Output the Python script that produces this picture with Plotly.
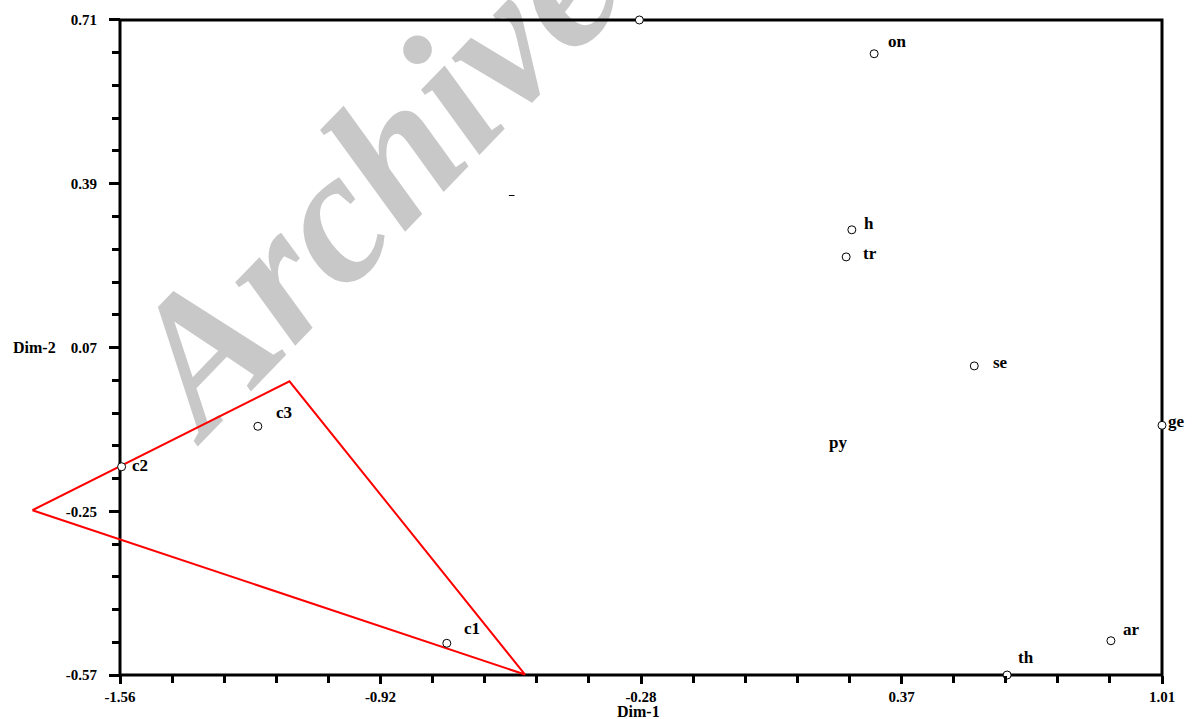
import numpy as np
import plotly.graph_objects as go

# ---------------- data ----------------
point_labels = ["", "on", "h", "tr", "se", "ge", "ar", "th", "c1", "c2", "c3"]
point_x = [-0.279, 0.300, 0.245, 0.231, 0.547, 1.010, 0.884, 0.628, -0.754, -1.556, -1.220]
point_y = [0.710, 0.644, 0.300, 0.247, 0.034, -0.082, -0.503, -0.570, -0.508, -0.163, -0.084]

text_only_labels = ["py"]
text_only_x = [0.211]
text_only_y = [-0.119]

stray_x = [-0.594]
stray_y = [0.367]

triangle_x = [-1.776, -1.142, -0.561, -1.776]
triangle_y = [-0.248, 0.004, -0.569, -0.248]

x_tick_labels = ["-1.56", "-0.92", "-0.28", "0.37", "1.01"]
y_tick_labels = ["0.71", "0.39", "0.07", "-0.25", "-0.57"]

x_title = "Dim-1"
y_title = "Dim-2"
watermark = "Archive"

# ---------------- styles / layout geometry ----------------
XMIN_FRAME, XMAX_FRAME = -1.56, 1.01
YMIN_FRAME, YMAX_FRAME = -0.57, 0.71
W, H = 1196, 719
L, R, T, B = 20, 30, 13, 40
pw, ph = W - L - R, H - T - B
px_per_x = (1162 - 120) / (XMAX_FRAME - XMIN_FRAME)
px_per_y = (675 - 17) / (YMAX_FRAME - YMIN_FRAME)
x_range = [XMIN_FRAME - (120 - L) / px_per_x, XMAX_FRAME + (W - R - 1162) / px_per_x]
y_range = [YMIN_FRAME - (H - B - 675) / px_per_y, YMAX_FRAME + (17 - T) / px_per_y]

label_offsets = {  # (dx, dy) in pixels from the marker to the label
    "on": (12, -12), "h": (10, -6), "tr": (15, -3), "se": (17, -3), "ge": (4, -4),
    "ar": (10, -11), "th": (9, -18), "c1": (15, -15), "c2": (8, -1), "c3": (16, -14),
}

SERIF = "Liberation Serif, Times New Roman, serif"
LABEL_SIZE = 17

x_tickvals = list(np.linspace(XMIN_FRAME, XMAX_FRAME, len(x_tick_labels)))
y_tickvals = list(np.linspace(YMAX_FRAME, YMIN_FRAME, len(y_tick_labels)))
x_minor = list(np.linspace(XMIN_FRAME, XMAX_FRAME, 5 * (len(x_tick_labels) - 1) + 1))
y_minor = list(np.linspace(YMIN_FRAME, YMAX_FRAME, 5 * (len(y_tick_labels) - 1) + 1))

fig = go.Figure()

fig.add_trace(go.Scatter(
    x=triangle_x, y=triangle_y, mode="lines",
    line=dict(color="#ff0000", width=2), hoverinfo="skip", showlegend=False,
))

fig.add_trace(go.Scatter(
    x=point_x, y=point_y, mode="markers",
    marker=dict(symbol="circle", size=8, color="white", line=dict(color="black", width=1)),
    cliponaxis=False, showlegend=False, text=point_labels,
))

fig.add_trace(go.Scatter(
    x=stray_x, y=stray_y, mode="markers",
    marker=dict(symbol="line-ew", size=4, line=dict(color="black", width=1)),
    showlegend=False, hoverinfo="skip",
))

fig.add_trace(go.Scatter(
    x=text_only_x, y=text_only_y, mode="text", text=text_only_labels,
    textfont=dict(family=SERIF, size=LABEL_SIZE, color="black", weight="bold"),
    textposition="middle center", showlegend=False, cliponaxis=False,
))

annotations = []
for lab, xv, yv in zip(point_labels, point_x, point_y):
    if not lab:
        continue
    dx, dy = label_offsets.get(lab, (10, 0))
    annotations.append(dict(
        x=xv, y=yv, xref="x", yref="y", text=lab, showarrow=False,
        xanchor="left", yanchor="middle", xshift=dx, yshift=-dy,
        font=dict(family=SERIF, size=LABEL_SIZE, color="black", weight="bold"),
    ))

annotations.append(dict(
    x=-0.28, y=(H - B - 711.5) / ph, xref="x", yref="paper", text=x_title,
    showarrow=False, xanchor="center", yanchor="middle",
    font=dict(family=SERIF, size=16, color="black", weight="bold"),
))
annotations.append(dict(
    x=(11 - L) / pw, y=0.07, xref="paper", yref="y", text=y_title,
    showarrow=False, xanchor="left", yanchor="middle",
    font=dict(family=SERIF, size=16, color="black", weight="bold"),
))

cx, cy = (356 - L) / pw, (H - B - 158) / ph
shapes = [
    dict(type="rect", xref="paper", yref="paper", x0=cx - 0.02, x1=cx + 0.02,
         y0=cy - 0.02, y1=cy + 0.02, line=dict(width=0), fillcolor="rgba(0,0,0,0)",
         layer="below",
         label=dict(text=watermark, textposition="middle center", textangle=-46,
                    font=dict(family=SERIF, size=190, color="#c8c8c8",
                              weight="bold", style="italic"))),
    dict(type="rect", xref="x", yref="y", x0=XMIN_FRAME, x1=XMAX_FRAME,
         y0=YMIN_FRAME, y1=YMAX_FRAME, line=dict(color="black", width=3),
         fillcolor="rgba(0,0,0,0)", layer="between"),
]

fig.update_layout(
    width=W, height=H,
    margin=dict(l=L, r=R, t=T, b=B),
    paper_bgcolor="white", plot_bgcolor="rgba(0,0,0,0)",
    showlegend=False,
    annotations=annotations, shapes=shapes,
    xaxis=dict(
        range=x_range, anchor="free", position=(H - B - 675) / ph,
        showline=False, showgrid=False, zeroline=False,
        ticks="outside", ticklen=8, tickwidth=3, tickcolor="black",
        tickmode="array", tickvals=x_tickvals, ticktext=x_tick_labels,
        tickfont=dict(family=SERIF, size=15, color="black", weight="bold"),
        ticklabelstandoff=0,
        minor=dict(tickmode="array", tickvals=x_minor, ticks="outside",
                   ticklen=7, tickwidth=3, tickcolor="black", showgrid=False),
    ),
    yaxis=dict(
        range=y_range, anchor="free", position=(120 - L) / pw, side="left",
        showline=False, showgrid=False, zeroline=False,
        ticks="outside", ticklen=11, tickwidth=3, tickcolor="black",
        tickmode="array", tickvals=y_tickvals, ticktext=y_tick_labels,
        tickfont=dict(family=SERIF, size=15, color="black", weight="bold"),
        ticklabelstandoff=9,
        minor=dict(tickmode="array", tickvals=y_minor, ticks="outside",
                   ticklen=8, tickwidth=3, tickcolor="black", showgrid=False),
    ),
)

fig.write_html(
    "out.html",
    config={"displayModeBar": False},
    post_script="document.body.style.margin='0px';document.body.style.overflow='hidden';",
)
